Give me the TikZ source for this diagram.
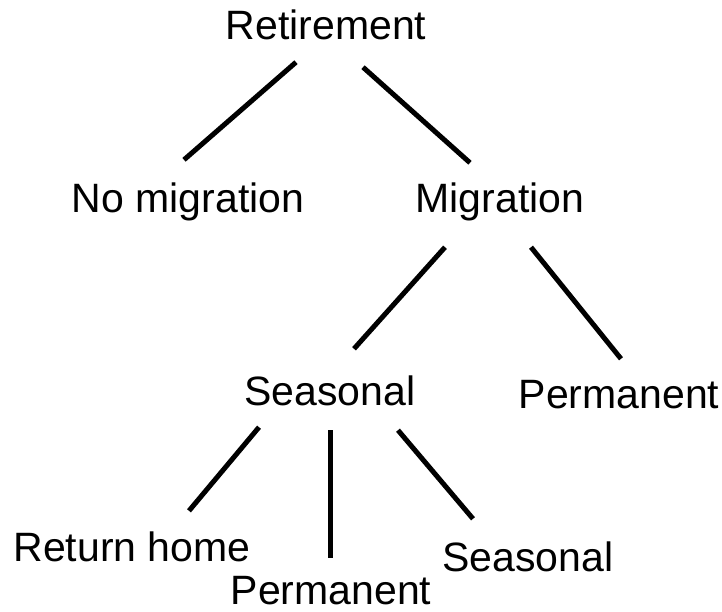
\documentclass[tikz,border=0pt]{standalone}
\usepackage{fontspec}
\setmainfont{Liberation Sans}
\usepackage{tikz}

\begin{document}
\begin{tikzpicture}[x=1pt,y=-1pt,
  word/.style={anchor=base,inner sep=0pt,text height=30pt,text depth=9pt,font=\fontsize{41}{49}\selectfont},
  branch/.style={line width=5pt}]
\useasboundingbox (0,0) rectangle (722,612);

\node[word] (ret) at (326,40) {Retirement};
\node[word] (nomig) at (188,213) {No migration};
\node[word] (mig) at (500,213) {Migration};
\node[word] (seas) at (330,405) {Seasonal};
\node[word] (perm) at (619,408) {Permanent};
\node[word] (home) at (132,561) {Return home};
\node[word] (seasperm) at (331,604) {Permanent};
\node[word] (seasseas) at (528,571) {Seasonal};

\draw[branch] ([shift={(-30,13)}]ret.south) -- ([shift={(-4,-23)}]nomig.north);
\draw[branch] ([shift={(37,18)}]ret.south) -- ([shift={(-30,-20)}]mig.north);

\draw[branch] ([shift={(-55,25)}]mig.south) -- ([shift={(24,-26)}]seas.north);
\draw[branch] ([shift={(31,25)}]mig.south) -- ([shift={(2,-19)}]perm.north);

\draw[branch] ([shift={(-71,13)}]seas.south) -- ([shift={(57,-20)}]home.north);
\draw[branch] ([shift={(0,16)}]seas.south) -- ([shift={(-1,-16)}]seasperm.north);
\draw[branch] ([shift={(68,16)}]seas.south) -- ([shift={(-55,-22)}]seasseas.north);

\end{tikzpicture}
\end{document}
